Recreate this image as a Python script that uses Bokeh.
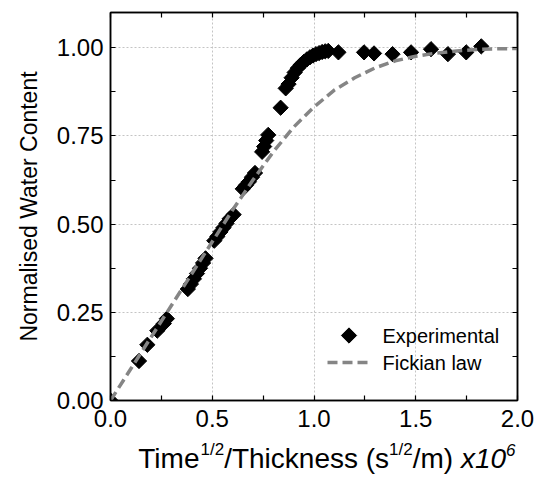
from bokeh.plotting import figure
from bokeh.models import Range1d, LinearAxis, FixedTicker, NumeralTickFormatter
from bokeh.layouts import column
from bokeh.core.properties import value
from bokeh.embed import file_html
from bokeh.resources import INLINE
import math

# ---------------- data ----------------
exp_x = [0.0, 0.14, 0.181, 0.23, 0.262, 0.277,
         0.38, 0.395, 0.41, 0.425, 0.44, 0.455, 0.467,
         0.51, 0.525, 0.54, 0.555, 0.57, 0.585, 0.605,
         0.65, 0.665, 0.68, 0.695, 0.71,
         0.745, 0.755, 0.765, 0.775,
         0.836, 0.861, 0.875, 0.89, 0.905, 0.92, 0.935, 0.95, 0.965, 0.98,
         0.995, 1.01, 1.025, 1.04, 1.055, 1.07, 1.12,
         1.246, 1.295, 1.386, 1.477, 1.575, 1.658, 1.748, 1.822]
exp_y = [0.0, 0.112, 0.158, 0.198, 0.218, 0.232,
         0.316, 0.33, 0.345, 0.36, 0.375, 0.39, 0.403,
         0.453, 0.465, 0.478, 0.49, 0.502, 0.515, 0.527,
         0.60, 0.61, 0.62, 0.633, 0.645,
         0.705, 0.72, 0.737, 0.753,
         0.83, 0.885, 0.897, 0.915, 0.93, 0.942, 0.952, 0.96, 0.967, 0.973,
         0.978, 0.982, 0.985, 0.988, 0.99, 0.991, 0.987,
         0.987, 0.984, 0.982, 0.987, 0.996, 0.982, 0.987, 1.004]

fick_x = [0.0, 0.1, 0.2, 0.3, 0.4, 0.5, 0.6, 0.7, 0.8, 0.9, 1.0,
          1.1, 1.2, 1.3, 1.4, 1.5, 1.6, 1.7, 1.8, 1.9, 2.0]
fick_y = [0.0, 0.09, 0.18, 0.27, 0.36, 0.45, 0.54, 0.625, 0.705, 0.775, 0.832,
          0.88, 0.915, 0.943, 0.963, 0.976, 0.985, 0.991, 0.995, 0.997, 0.998]

x_ticks = [0.0, 0.5, 1.0, 1.5, 2.0]
x_minor = [0.25, 0.75, 1.25, 1.75]
y_ticks = [0.0, 0.25, 0.5, 0.75, 1.0]
y_minor = [0.125, 0.375, 0.625, 0.875]

legend_labels = ["Experimental", "Fickian law"]
y_title = "Normalised Water Content"
x_title_parts = [("Time", "main", False), ("1/2", "sup", False),
                 ("/Thickness (s", "main", False), ("1/2", "sup", False),
                 ("/m) ", "main", False), ("x10", "main", True), ("6", "sup", True)]

FONT = "Liberation Sans"
X0, X1, Y0, Y1 = 0.0, 2.0, 0.0, 1.1

# ---------------- layout (pixels) ----------------
W_TOTAL = 536
FRAME_L, FRAME_R, FRAME_T, FRAME_B = 110, 517, 12, 400
MAIN_H = 440
TITLE_H = 42

p = figure(width=W_TOTAL, height=MAIN_H, output_backend="svg", toolbar_location=None,
           title=None,
           x_range=Range1d(X0, X1), y_range=Range1d(Y0, Y1),
           min_border_left=FRAME_L, min_border_right=W_TOTAL - FRAME_R,
           min_border_top=FRAME_T, min_border_bottom=MAIN_H - FRAME_B,
           background_fill_color="white", border_fill_color="white")

p.outline_line_color = "black"
p.outline_line_width = 1.5

px_per_x = (FRAME_R - FRAME_L) / (X1 - X0)
px_per_y = (FRAME_B - FRAME_T) / (Y1 - Y0)


def dx(px):
    return X0 + (px - FRAME_L) / px_per_x


def dy(py):
    return Y0 + (FRAME_B - py) / px_per_y


# grid
p.xgrid.ticker = FixedTicker(ticks=x_ticks)
p.ygrid.ticker = FixedTicker(ticks=y_ticks)
for g in (p.xgrid, p.ygrid):
    g.grid_line_color = "#c4c4c4"
    g.grid_line_dash = "2 2"
    g.grid_line_width = 1

# mirrored axes (ticks only)
p.add_layout(LinearAxis(), "above")
p.add_layout(LinearAxis(), "right")

for ax in p.xaxis:
    ax.ticker = FixedTicker(ticks=x_ticks, minor_ticks=x_minor)
    ax.formatter = NumeralTickFormatter(format="0.0")
for ax in p.yaxis:
    ax.ticker = FixedTicker(ticks=y_ticks, minor_ticks=y_minor)
    ax.formatter = NumeralTickFormatter(format="0.00")

for ax in p.axis:
    ax.axis_line_color = "black"
    ax.axis_line_width = 1.5
    ax.major_tick_in = 5
    ax.major_tick_out = 0
    ax.minor_tick_in = 5
    ax.minor_tick_out = 0
    ax.major_tick_line_color = "black"
    ax.minor_tick_line_color = "black"
    ax.major_tick_line_width = 1.2
    ax.minor_tick_line_width = 1.2
    ax.major_label_text_font = FONT
    ax.major_label_text_font_size = "24px"
    ax.major_label_text_color = "black"

p.below[0].major_label_standoff = 9
p.left[0].major_label_standoff = 7
for ax in (p.above[0], p.right[0]):
    ax.major_label_text_color = None
    ax.major_label_standoff = 0

p.left[0].axis_label = y_title
p.left[0].axis_label_text_font = FONT
p.left[0].axis_label_text_font_size = "23px"
p.left[0].axis_label_text_font_style = "normal"
p.left[0].axis_label_text_color = "black"
p.left[0].axis_label_standoff = 12

# ---------------- data marks ----------------
MARK = dict(marker="square", size=10.8, angle=math.pi / 4,
            fill_color="black", line_color="black", line_width=1)
LINE = dict(line_color="#858585", line_width=3.5, line_dash="10 5")

p.scatter(exp_x, exp_y, **MARK)
p.line(fick_x, fick_y, **LINE)

# ---------------- legend (drawn inside the frame) ----------------
LEG_GLYPH_L, LEG_GLYPH_R, LEG_TEXT_X = 327, 370, 382
LEG_ROW1, LEG_ROW2 = 335, 362
p.scatter([dx((LEG_GLYPH_L + LEG_GLYPH_R) / 2)], [dy(LEG_ROW1)], **MARK)
p.line([dx(LEG_GLYPH_L), dx(LEG_GLYPH_R)], [dy(LEG_ROW2), dy(LEG_ROW2)], **LINE)
p.text([dx(LEG_TEXT_X), dx(LEG_TEXT_X)], [dy(LEG_ROW1), dy(LEG_ROW2)], text=legend_labels,
       text_font=value(FONT), text_font_size="20px", text_color="black",
       text_baseline="middle", text_align="left")

# ---------------- x-axis title strip (with superscripts) ----------------
# same horizontal borders as the main plot, so its frame spans the same pixels;
# the x range is expressed in page pixels, the y range in pixels from the strip bottom
t = figure(width=W_TOTAL, height=TITLE_H, output_backend="svg", toolbar_location=None,
           title=None,
           x_range=Range1d(FRAME_L, FRAME_R), y_range=Range1d(0, TITLE_H),
           min_border_left=FRAME_L, min_border_right=W_TOTAL - FRAME_R,
           min_border_top=0, min_border_bottom=0,
           x_axis_type=None, y_axis_type=None,
           background_fill_color="white", border_fill_color="white")
t.outline_line_color = None
t.grid.visible = False

CW = {'T': 0.611, 'i': 0.222, 'm': 0.833, 'e': 0.556, '1': 0.556, '/': 0.278, '2': 0.556,
      'h': 0.556, 'c': 0.5, 'k': 0.5, 'n': 0.556, 's': 0.5, ' ': 0.278, '(': 0.333,
      ')': 0.333, 'x': 0.5, '0': 0.556, '6': 0.556}
F_MAIN, F_SUP = 28, 17
sizes = {"main": F_MAIN, "sup": F_SUP}
widths = [sum(CW[c] for c in s) * sizes[k] for s, k, _ in x_title_parts]
total = sum(widths)
TITLE_RIGHT = 515          # keep the whole title inside the strip's frame
BASELINE_FROM_TOP = 458 - MAIN_H
SUP_RAISE = 9
xo = TITLE_RIGHT - total
for (s, k, it), w in zip(x_title_parts, widths):
    t.text([xo], [TITLE_H - BASELINE_FROM_TOP + (SUP_RAISE if k == "sup" else 0)], text=[s],
           text_font=value(FONT), text_font_size=f"{sizes[k]}px",
           text_font_style="italic" if it else "normal", text_color="black",
           text_baseline="alphabetic", text_align="left")
    xo += w

layout = column(p, t, spacing=0)
open("out.html", "w").write(file_html(layout, INLINE))
